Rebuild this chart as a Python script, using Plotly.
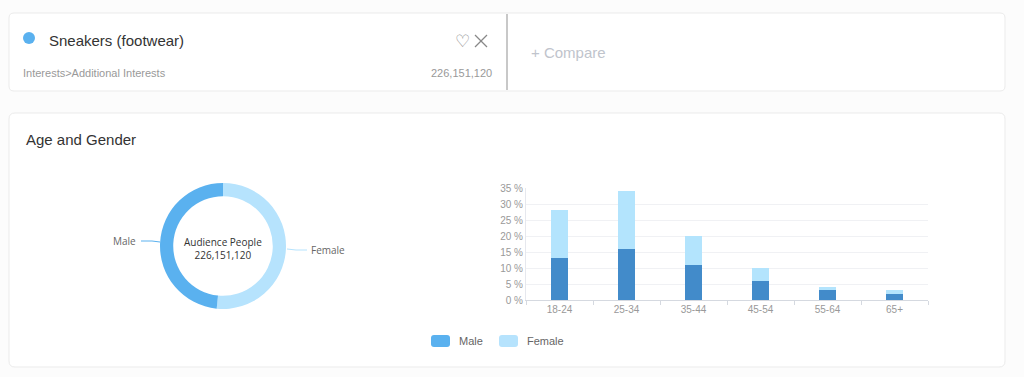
import plotly.graph_objects as go

W, H = 1024, 377

# ---- data ----
age_groups = ["18-24", "25-34", "35-44", "45-54", "55-64", "65+"]
male_pct = [13, 16, 11, 6, 3, 2]
female_pct = [15, 18, 9, 4, 1, 1]
gender_labels = ["Male", "Female"]
gender_share = [48.4, 51.6]
audience_total = "226,151,120"
interest_name = "Sneakers (footwear)"
interest_path = "Interests>Additional Interests"
y_ticks = [0, 5, 10, 15, 20, 25, 30, 35]

MALE_BAR = "#428bca"
FEMALE_BAR = "#b3e4fd"
MALE_PIE = "#5ab1ef"
FEMALE_PIE = "#b6e3fd"
FONT = "Liberation Sans, Arial, sans-serif"


def px(x):
    return x / W


def py(y):
    return 1 - y / H


def rrect(x0, y0, x1, y1, r):
    X0, X1 = px(x0), px(x1)
    Y0, Y1 = py(y0), py(y1)
    rx, ry = r / W, r / H
    return (f"M{X0+rx},{Y0} L{X1-rx},{Y0} Q{X1},{Y0} {X1},{Y0-ry} "
            f"L{X1},{Y1+ry} Q{X1},{Y1} {X1-rx},{Y1} L{X0+rx},{Y1} "
            f"Q{X0},{Y1} {X0},{Y1+ry} L{X0},{Y0-ry} Q{X0},{Y0} {X0+rx},{Y0} Z")


def text(x, y, s, size, color, anchor="left", family=FONT):
    return dict(x=px(x), y=py(y), xref="paper", yref="paper", text=s, showarrow=False,
                xanchor=anchor, yanchor="middle", font=dict(size=size, color=color, family=family))


fig = go.Figure()

# donut (female drawn first clockwise from 12 o'clock so male sits on the left)
fig.add_trace(go.Pie(
    labels=gender_labels[::-1], values=gender_share[::-1], hole=0.79, sort=False,
    direction="clockwise", rotation=0,
    marker=dict(colors=[FEMALE_PIE, MALE_PIE], line=dict(width=0)),
    textinfo="none", showlegend=False, hoverinfo="label+percent",
    domain=dict(x=[px(160), px(286)], y=[py(309), py(183)]),
))

# stacked bars
fig.add_trace(go.Bar(x=age_groups, y=male_pct, name="Male", marker_color=MALE_BAR,
                     width=0.24, showlegend=False, marker_line_width=0))
fig.add_trace(go.Bar(x=age_groups, y=female_pct, name="Female", marker_color=FEMALE_BAR,
                     width=0.24, showlegend=False, marker_line_width=0))

shapes = []
ann = []

# cards
shapes.append(dict(type="path", path=rrect(9, 13, 1005, 91, 5), xref="paper", yref="paper",
                   fillcolor="white", line=dict(color="#ebebeb", width=1), layer="below"))
shapes.append(dict(type="path", path=rrect(9, 113, 1005, 367, 6), xref="paper", yref="paper",
                   fillcolor="white", line=dict(color="#ebebeb", width=1), layer="below"))
# divider
shapes.append(dict(type="line", xref="paper", yref="paper", x0=px(507), x1=px(507),
                   y0=py(14), y1=py(90), line=dict(color="#c8c8c8", width=2)))
# blue dot
shapes.append(dict(type="circle", xref="paper", yref="paper", x0=px(23), x1=px(35),
                   y0=py(44), y1=py(32), fillcolor=MALE_PIE, line=dict(width=0)))
# close X
for a, b in [((475, 35), (487, 47)), ((475, 47), (487, 35))]:
    shapes.append(dict(type="line", xref="paper", yref="paper", x0=px(a[0]), y0=py(a[1]),
                       x1=px(b[0]), y1=py(b[1]), line=dict(color="#888", width=1.2)))

ann.append(text(47, 40, interest_name, 15, "#333"))
ann.append(text(21, 73, interest_path, 11, "#999"))
ann.append(text(494, 73, audience_total, 11, "#999", anchor="right"))
ann.append(text(462, 41, "♡", 17, "#888", anchor="center", family="DejaVu Sans"))
ann.append(text(529, 52, "+ Compare", 15, "#c0c4cc"))
ann.append(text(24, 139, "Age and Gender", 15, "#333"))

# donut centre text
ann.append(text(223, 248, "Audience People<br>" + audience_total, 10, "#333",
                anchor="center", family="Open Sans, sans-serif"))

# donut leader lines & labels
shapes.append(dict(type="path", xref="paper", yref="paper",
                   path=f"M{px(160)},{py(242)} L{px(152)},{py(241)} L{px(141)},{py(241)}",
                   line=dict(color=MALE_PIE, width=1)))
shapes.append(dict(type="path", xref="paper", yref="paper",
                   path=f"M{px(287)},{py(249)} L{px(296)},{py(250)} L{px(307)},{py(250)}",
                   line=dict(color=FEMALE_PIE, width=1)))
ann.append(text(138, 241, gender_labels[0], 10, "#666", anchor="right", family="Open Sans, sans-serif"))
ann.append(text(309, 250, gender_labels[1], 10, "#666", family="Open Sans, sans-serif"))

# custom legend
for (x0, label, col, tx) in [(431, gender_labels[0], MALE_PIE, 457),
                             (499, gender_labels[1], FEMALE_PIE, 525)]:
    shapes.append(dict(type="path", xref="paper", yref="paper",
                       path=rrect(x0, 335, x0 + 19, 347, 3), fillcolor=col, line=dict(width=0)))
    ann.append(text(tx, 341, label, 11, "#666"))

fig.update_layout(
    width=W, height=H, margin=dict(l=0, r=0, t=0, b=0, pad=0, autoexpand=False),
    paper_bgcolor="#fcfcfc", plot_bgcolor="rgba(0,0,0,0)",
    barmode="stack", shapes=shapes, annotations=ann, showlegend=False,
    xaxis=dict(domain=[px(526), px(928)], type="category", showline=True, automargin=False,
               linecolor="#d5d9e0", ticks="outside", tickson="boundaries", ticklen=4,
               tickcolor="#d5d9e0", tickfont=dict(size=10, color="#999", family=FONT),
               showgrid=False, fixedrange=True),
    yaxis=dict(domain=[py(300), py(188)], range=[0, 35], tickvals=y_ticks, automargin=False,
               ticktext=[f"{v} %" for v in y_ticks], showline=True, linecolor="#e6e8ee",
               gridcolor="#f0f1f4", zeroline=False, fixedrange=True,
               tickfont=dict(size=10, color="#999", family=FONT), ticks=""),
)

fig.write_html("out.html", config={"displayModeBar": False},
               post_script="document.body.style.margin='0';document.body.style.padding='0';")
